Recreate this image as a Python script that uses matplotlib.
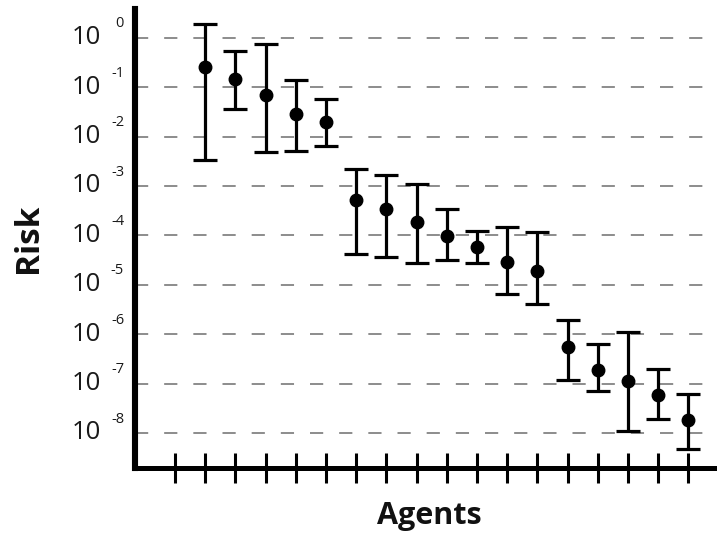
import numpy as np
import matplotlib
matplotlib.use("Agg")
import matplotlib.pyplot as plt
from matplotlib import transforms

# ── data ───────────────────────────────────────────────────────
agents = list(range(1, 18))
risk = [0.26, 0.148, 0.069, 0.029, 0.0194,
        5.2e-4, 3.4e-4, 1.9e-4, 9.8e-5, 5.9e-5, 2.9e-5, 1.9e-5,
        5.4e-7, 1.9e-7, 1.1e-7, 5.8e-8, 1.8e-8]
risk_hi = [1.87, 0.546, 0.73, 0.139, 0.058,
           2.2e-3, 1.7e-3, 1.1e-3, 3.4e-4, 1.2e-4, 1.5e-4, 1.15e-4,
           1.9e-6, 6.3e-7, 1.1e-6, 2.0e-7, 6.1e-8]
risk_lo = [3.3e-3, 0.0366, 4.9e-3, 5.1e-3, 6.5e-3,
           4.2e-5, 3.7e-5, 2.8e-5, 3.1e-5, 2.7e-5, 6.5e-6, 4.1e-6,
           1.2e-7, 7.0e-8, 1.1e-8, 1.9e-8, 4.7e-9]
tick_pos = list(range(0, 18))
decades = [0, -1, -2, -3, -4, -5, -6, -7, -8]

plt.rcParams["font.family"] = ["Open Sans", "DejaVu Sans"]
plt.rcParams["lines.scale_dashes"] = False

W, H = 717, 535
fig = plt.figure(figsize=(W / 100, H / 100), dpi=100, facecolor="white")
ax = fig.add_axes([135 / W, (H - 468) / H, 1 - 135 / W, (468 - 9) / H])

ax.set_yscale("log")
ax.set_ylim(10 ** -8.71, 10 ** 0.581)
ax.set_xlim(-1.325, 17.95)

# dashed decade lines
for d in decades:
    ax.axhline(10.0 ** d, color="#8c8c8c", lw=1.4, dashes=(9.5, 11.5), zorder=1)

risk_a = np.array(risk)
yerr = [risk_a - np.array(risk_lo), np.array(risk_hi) - risk_a]
ax.errorbar(agents, risk, yerr=yerr, fmt="o", color="black", ms=9,
            elinewidth=2.3, capsize=8.5, capthick=2.3, zorder=3)

# axes styling
for side in ("top", "right"):
    ax.spines[side].set_visible(False)
ax.spines["left"].set_linewidth(4.4)
ax.spines["bottom"].set_linewidth(3.6)
for sp in ax.spines.values():
    sp.set_capstyle("projecting")

ax.set_xticks(tick_pos)
ax.set_xticklabels([])
ax.tick_params(axis="x", direction="inout", length=21.5, width=2.2, color="black")
ax.set_yticks([])
ax.yaxis.set_minor_locator(matplotlib.ticker.NullLocator())

# y tick labels drawn as "10" with a detached exponent
trans = transforms.blended_transform_factory(fig.transFigure, ax.transData)
for d in decades:
    ax.text(101 / W, 10.0 ** d, "10", transform=trans, ha="right", va="center",
            fontsize=18.5, color="#1a1a1a", clip_on=False)
    ax.text(124 / W, 10.0 ** (d + 0.28), f"{d}", transform=trans, ha="right",
            va="center", fontsize=10.5, color="#1a1a1a", clip_on=False)

fig.text(29 / W, (H - 238) / H, "Risk", rotation=90, ha="center", va="center",
         fontsize=24, fontweight="bold", color="#111111")
fig.text(429 / W, (H - 516) / H, "Agents", ha="center", va="center",
         fontsize=22, fontweight="bold", color="#111111")

fig.savefig("out.png", dpi=100, facecolor="white")
